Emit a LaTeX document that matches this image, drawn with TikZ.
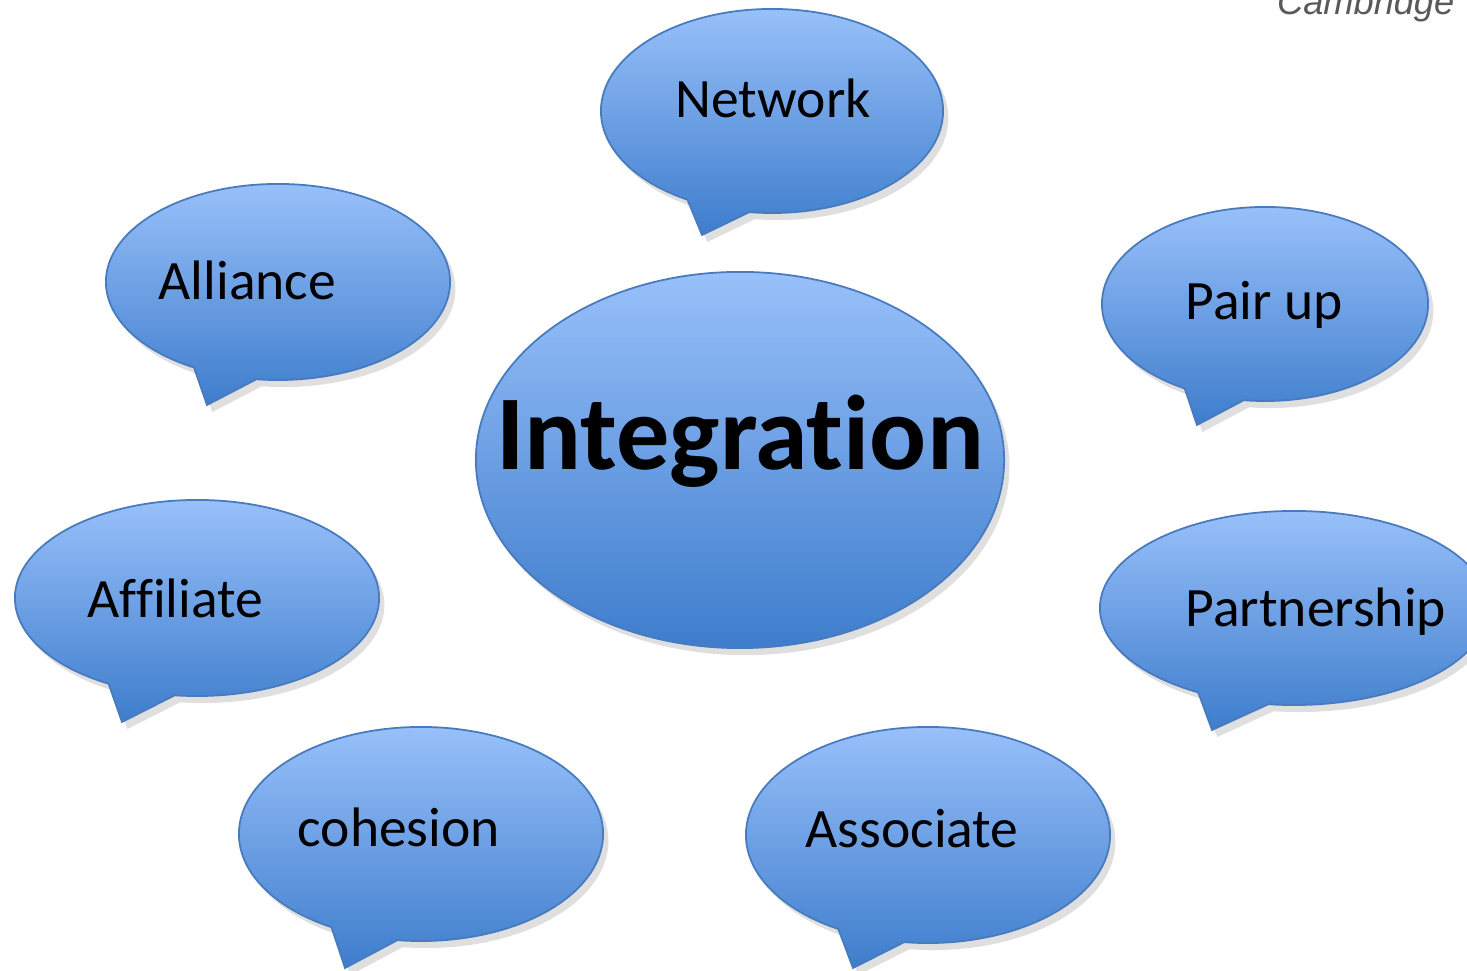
\documentclass[tikz,border=0pt]{standalone}
\usepackage{fontspec}
\setmainfont{Carlito}[Ligatures=NoCommon]
\newfontfamily\cambfont{Liberation Sans}
\usepackage{tikz}
\usetikzlibrary{shapes.callouts,shapes.geometric,shadows}
\usepackage{xcolor}

\definecolor{bubbletop}{RGB}{152,192,250}
\definecolor{bubblebottom}{RGB}{62,125,204}
\definecolor{bubbleline}{RGB}{72,122,190}

\tikzset{
	bubble/.style={ellipse callout,draw=bubbleline,line width=0.5pt,
		top color=bubbletop,bottom color=bubblebottom,inner sep=0pt,
		callout pointer arc=22,
		drop shadow={shadow xshift=1.5pt,shadow yshift=-2pt,opacity=0.18,fill=black!70}},
	word/.style={anchor=base west,inner sep=0pt,font=\fontsize{15.8}{19}\selectfont}
}

\begin{document}
\begin{tikzpicture}[x=0.01cm,y=-0.01cm]
	\clip (0,0) rectangle (1467,971);
	\begin{scope}[every node/.style={bubble}]
		\node[minimum width=3.42cm,minimum height=2.04cm,callout absolute pointer={(702,235)}] (network) at (772,111) {};
		\node[minimum width=3.44cm,minimum height=1.96cm,callout absolute pointer={(207,405)}] (alliance) at (278,282) {};
		\node[minimum width=3.26cm,minimum height=1.94cm,callout absolute pointer={(1197,425)}] (pairup) at (1265,304) {};
		\node[minimum width=3.64cm,minimum height=1.96cm,callout absolute pointer={(122,722)}] (affiliate) at (197,598) {};
		\node[minimum width=3.88cm,minimum height=1.94cm,callout absolute pointer={(1212,730)}] (partnership) at (1294,608) {};
		\node[minimum width=3.64cm,minimum height=2.14cm,callout absolute pointer={(345,968)}] (cohesion) at (421,834) {};
		\node[minimum width=3.64cm,minimum height=2.16cm,callout absolute pointer={(853,968)}] (associate) at (928,835) {};
	\end{scope}
	\node[ellipse,draw=bubbleline,line width=0.5pt,top color=bubbletop,bottom color=bubblebottom,
		inner sep=0pt,minimum width=5.28cm,minimum height=3.76cm,
		drop shadow={shadow xshift=1.5pt,shadow yshift=-2pt,opacity=0.18,fill=black!70}] (integration) at (740,460) {};
	% labels
	\begin{scope}[every node/.style={word}]
		\node (network text) at (675,118) {Network};
		\node (alliance text) at (158,300) {Alliance};
		\node (pairup text) at (1185,320) {Pair up};
		\node (affiliate text) at (87,618) {Affiliate};
		\node (partnership text) at (1185,627) {Partnership};
		\node (cohesion text) at (297,847) {cohesion};
		\node (associate text) at (805,848) {Associate};
	\end{scope}
	\node[anchor=base,inner sep=0pt,font=\fontsize{30.2}{36}\selectfont\bfseries] (integration text) at (740,470) {Integration};
	\node[anchor=base east,inner sep=0pt,text=black!65,font=\cambfont\itshape\fontsize{10.3}{12}\selectfont] (source) at (1455,15) {Cambridge};
\end{tikzpicture}
\end{document}
